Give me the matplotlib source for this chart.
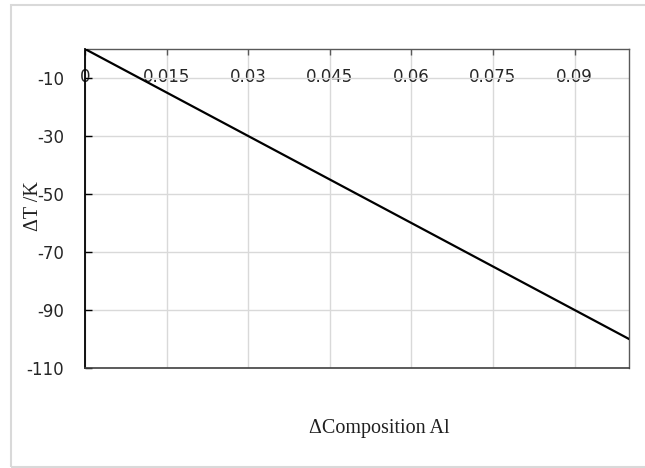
import matplotlib
matplotlib.use("Agg")
import matplotlib.pyplot as plt
from matplotlib.patches import Rectangle

# Data
composition = [0.0, 0.1]
delta_t = [0.0, -100.0]
x_ticks = [0, 0.015, 0.03, 0.045, 0.06, 0.075, 0.09]
x_tick_labels = ["0", "0.015", "0.03", "0.045", "0.06", "0.075", "0.09"]
y_ticks = [-110, -90, -70, -50, -30, -10]
y_tick_labels = ["-110", "-90", "-70", "-50", "-30", "-10"]

fig = plt.figure(figsize=(6.45, 4.68), dpi=100)
fig.patches.append(Rectangle((11/645, 1/468), 1.0, 462/468, transform=fig.transFigure,
                             fill=False, edgecolor="#d9d9d9", linewidth=1.5))
ax = fig.add_axes([85/645, 100/468, 544/645, 319/468])

ax.plot(composition, delta_t, color="black", linewidth=1.6, zorder=3)

ax.set_xlim(0, 0.1)
ax.set_ylim(-110, 0)

ax.set_xticks(x_ticks)
ax.set_xticklabels(x_tick_labels)
ax.set_yticks(y_ticks)
ax.set_yticklabels(y_tick_labels)

ax.xaxis.tick_top()
ax.tick_params(axis="x", direction="in", length=4, width=1, color="#595959",
               pad=-27, labelsize=12, labelcolor="#262626")
ax.tick_params(axis="y", direction="in", length=5, width=1, color="black",
               pad=15, labelsize=12, labelcolor="#262626")

ax.grid(True, color="#d9d9d9", linewidth=1)
ax.set_axisbelow(True)

for s in ["top", "right"]:
    ax.spines[s].set_color("#595959")
    ax.spines[s].set_linewidth(1)
ax.spines["bottom"].set_color("#404040")
ax.spines["bottom"].set_linewidth(1.2)
ax.spines["left"].set_color("black")
ax.spines["left"].set_linewidth(1.3)

fig.text(379.5/645, (468-429)/468, "\u0394Composition Al", family="Liberation Serif",
         fontsize=14.5, ha="center", va="center", color="#202020")
fig.text(33/645, (468-206)/468, "\u0394T /K", family="Liberation Serif",
         fontsize=14.5, ha="center", va="center", rotation=90, color="#202020")

fig.savefig("out.png", dpi=100)
